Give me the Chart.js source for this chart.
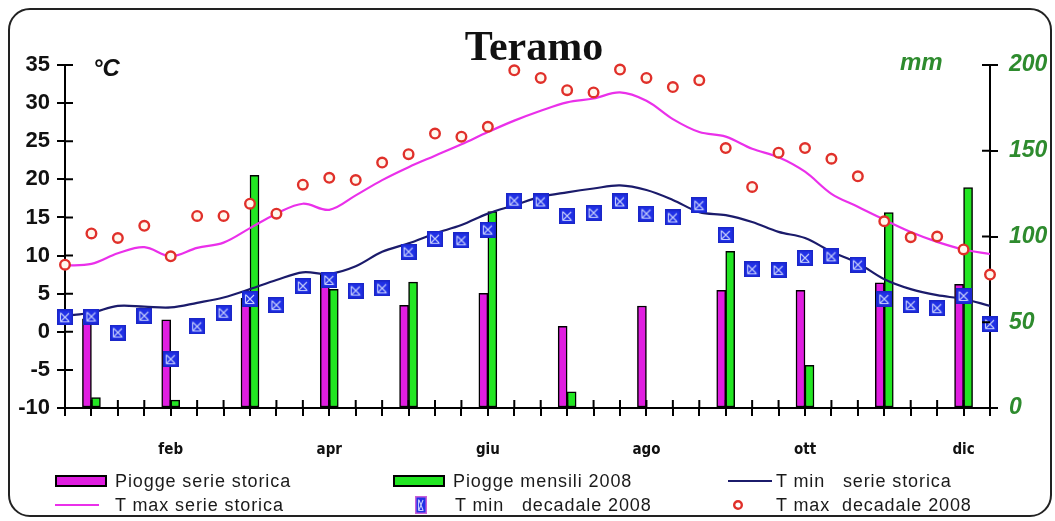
<!DOCTYPE html>
<html>
<head>
<meta charset="utf-8">
<script src="https://cdn.jsdelivr.net/npm/chart.js@4.4.0/dist/chart.umd.min.js"></script>
<style>
  html, body { margin: 0; padding: 0; background: #fff; }
  body { width: 1055px; height: 521px; position: relative; overflow: hidden;
         font-family: 'Liberation Sans', Arial, sans-serif; }
  #cornice { position: absolute; left: 8px; top: 8px; width: 1044px; height: 509px;
             box-sizing: border-box; border: 2.5px solid #222; border-radius: 22px; }
  #grafico { position: absolute; left: 0; top: 0; }
  #titolo { position: absolute; left: 534px; top: 25px; transform: translateX(-50%);
            font: bold 42px/42px 'Liberation Serif', 'Times New Roman', serif; color: #111; white-space: nowrap; }
  .unita { position: absolute; font-weight: bold; font-style: italic; font-size: 24px; line-height: 24px; }
  #unitaC { left: 93px; top: 56px; color: #111; }
  #unitaMm { left: 900px; top: 50px; color: #2e8b2e; }
  .voce { position: absolute; font-size: 18px; line-height: 18px; color: #1a1a1a;
          white-space: pre; letter-spacing: 0.9px; }
  .segno { position: absolute; }
</style>
</head>
<body>
<div id="cornice"></div>
<canvas id="grafico" width="1055" height="521"></canvas>
<div id="titolo">Teramo</div>
<div class="unita" id="unitaC">°C</div>
<div class="unita" id="unitaMm">mm</div>
<div id="legenda"></div>
<script>
// --- Teramo: piogge mensili e temperature decadali, serie storica e 2008 ---

// mesi (per le barre di pioggia)
const mesi = ['gen', 'feb', 'mar', 'apr', 'mag', 'giu', 'lug', 'ago', 'set', 'ott', 'nov', 'dic'];
// etichette sull'asse orizzontale e decade (0..35) su cui cadono
const etichetteAsseX = ['feb', 'apr', 'giu', 'ago', 'ott', 'dic'];
const decadiEtichette = [4, 10, 16, 22, 28, 34];
// tacche degli assi verticali
const tickGradi = [-10, -5, 0, 5, 10, 15, 20, 25, 30, 35];
const tickMm = [0, 50, 100, 150, 200];

// piogge (mm)
const pioggeSerieStorica = [52.0, 51.4, 64.0, 77.9, 59.9, 66.9, 47.6, 59.5, 68.6, 68.6, 73.0, 72.1];
const pioggeMensili2008 = [6.1, 4.6, 135.7, 69.2, 73.4, 114.5, 9.4, 0, 91.3, 24.9, 113.9, 128.5];

// temperature per decade (°C), 36 decadi
const tMinSerieStorica = [2.1, 2.5, 3.4, 3.3, 3.2, 3.8, 4.5, 5.6, 6.8, 7.8, 7.6, 8.6,
  10.5, 11.6, 12.9, 14.0, 15.5, 16.6, 17.7, 18.3, 18.8, 19.2, 18.6, 17.3,
  15.7, 15.3, 14.4, 13.1, 12.3, 10.5, 9.0, 6.9, 5.6, 4.8, 4.3, 3.4];
const tMaxSerieStorica = [8.7, 8.9, 10.3, 11.1, 9.9, 11.0, 11.7, 13.6, 15.5, 16.8, 16.0, 17.9,
  19.9, 21.6, 23.1, 24.6, 26.2, 27.7, 29.0, 30.1, 30.6, 31.4, 30.3, 27.9,
  26.2, 25.6, 24.0, 22.9, 21.0, 18.1, 16.4, 14.7, 13.1, 11.8, 10.8, 10.2];
const tMinDecadale2008 = [1.9, 2.0, -0.1, 2.1, -3.6, 0.7, 2.5, 4.3, 3.5, 6.0, 6.8, 5.4,
  5.7, 10.5, 12.2, 12.0, 13.4, 17.2, 17.1, 15.2, 15.6, 17.1, 15.5, 15.0,
  16.6, 12.7, 8.2, 8.1, 9.7, 9.9, 8.8, 4.3, 3.5, 3.1, 4.7, 1.0];
const tMaxDecadale2008 = [8.8, 12.9, 12.3, 13.9, 9.9, 15.2, 15.2, 16.8, 15.5, 19.3, 20.2, 19.9,
  22.2, 23.3, 26.0, 25.6, 26.9, 34.3, 33.3, 31.7, 31.4, 34.4, 33.3, 32.1,
  33.0, 24.1, 19.0, 23.5, 24.1, 22.7, 20.4, 14.5, 12.4, 12.5, 10.8, 7.5];

// colori
const ROSA = '#e01ee0';
const VERDE = '#22e622';
const MAGENTA = '#ea30ea';
const BLU_NOTTE = '#1b1b6b';
const ROSSO = '#e0302a';
const VERDE_ASSE = '#2e8b2e';

// segno "quadrato con croce" per le minime decadali
function segnoTmin(w, h, bordo) {
  const c = document.createElement('canvas');
  c.width = w; c.height = h;
  const g = c.getContext('2d');
  g.fillStyle = bordo || '#1a26c8';
  g.fillRect(0, 0, w, h);
  g.fillStyle = '#2030e6';
  g.fillRect(1.5, 1.5, w - 3, h - 3);
  g.strokeStyle = 'rgba(225,232,255,0.85)';
  g.lineWidth = 1.1;
  g.beginPath();
  g.moveTo(4, 4); g.lineTo(w - 4, h - 4);
  g.moveTo(w - 4, 4); g.lineTo(4, h - 4);
  g.moveTo(3.5, h - 3.5); g.lineTo(w - 3.5, h - 3.5);
  g.moveTo(3.5, 3.5); g.lineTo(3.5, h - 3.5);
  g.stroke();
  return c;
}

const perDecade = arr => arr.map((v, i) => ({ x: i, y: v }));
const perMese = arr => arr.map((v, m) => ({ x: 3 * m + 1, y: v }));

// tacche interne agli assi (le tacche esterne le disegna la libreria)
const taccheInterne = {
  id: 'taccheInterne',
  afterDraw(chart) {
    const { ctx, chartArea: a, scales } = chart;
    const L = 8;
    ctx.save();
    ctx.strokeStyle = '#000';
    ctx.lineWidth = 2;
    ctx.beginPath();
    scales.x.ticks.forEach(t => {
      const px = scales.x.getPixelForValue(t.value);
      ctx.moveTo(px, a.bottom); ctx.lineTo(px, a.bottom - L);
    });
    scales.y.ticks.forEach(t => {
      const py = scales.y.getPixelForValue(t.value);
      ctx.moveTo(a.left, py); ctx.lineTo(a.left + L, py);
    });
    scales.mm.ticks.forEach(t => {
      const py = scales.mm.getPixelForValue(t.value);
      ctx.moveTo(a.right, py); ctx.lineTo(a.right - L, py);
    });
    ctx.stroke();
    ctx.restore();
  }
};

const fontNum = { family: "'Liberation Sans', Arial, sans-serif", size: 22, weight: 'bold' };

const grafico = new Chart(document.getElementById('grafico'), {
  type: 'bar',
  data: {
    datasets: [
      { type: 'bar', label: 'Piogge serie storica', data: perMese(pioggeSerieStorica),
        yAxisID: 'mm', backgroundColor: ROSA, borderColor: '#000', borderWidth: 1.5,
        borderSkipped: false, barThickness: 9, order: 5 },
      { type: 'bar', label: 'Piogge mensili 2008', data: perMese(pioggeMensili2008),
        yAxisID: 'mm', backgroundColor: VERDE, borderColor: '#000', borderWidth: 1.5,
        borderSkipped: false, barThickness: 9, order: 5 },
      { type: 'line', label: 'T min   serie storica', data: perDecade(tMinSerieStorica),
        yAxisID: 'y', borderColor: BLU_NOTTE, borderWidth: 2.2, pointRadius: 0,
        tension: 0.35, order: 3 },
      { type: 'line', label: 'T max serie storica', data: perDecade(tMaxSerieStorica),
        yAxisID: 'y', borderColor: MAGENTA, borderWidth: 2.2, pointRadius: 0,
        tension: 0.35, order: 3 },
      { type: 'line', label: 'T min   decadale 2008', data: perDecade(tMinDecadale2008),
        yAxisID: 'y', showLine: false, pointStyle: segnoTmin(16, 16), pointRadius: 8,
        clip: false, order: 2 },
      { type: 'line', label: 'T max  decadale 2008', data: perDecade(tMaxDecadale2008),
        yAxisID: 'y', showLine: false, pointStyle: 'circle', pointRadius: 4.8,
        pointBorderWidth: 2.4, pointBorderColor: ROSSO, pointBackgroundColor: '#fff8ee',
        clip: false, order: 1 }
    ]
  },
  options: {
    responsive: false,
    devicePixelRatio: 1,
    animation: false,
    layout: { padding: { top: 65, left: 0, right: 0, bottom: 0 } },
    plugins: { legend: { display: false }, tooltip: { enabled: false } },
    scales: {
      x: {
        type: 'linear', min: 0, max: 35, offset: false,
        afterFit: s => { s.height = 113; },
        border: { display: true, color: '#000', width: 2 },
        grid: { display: true, drawOnChartArea: false, drawTicks: true, tickLength: 8,
                color: '#000', lineWidth: 2, offset: false },
        ticks: {
          stepSize: 1, autoSkip: false, maxRotation: 0, padding: 25, color: '#111',
          font: { family: "'Liberation Sans Narrow', 'DejaVu Sans Condensed', sans-serif", size: 15, weight: 'bold' },
          callback: v => {
            const k = decadiEtichette.indexOf(v);
            return k >= 0 ? etichetteAsseX[k] : '';
          }
        }
      },
      y: {
        position: 'left',
        min: tickGradi[0], max: tickGradi[tickGradi.length - 1],
        afterFit: s => { s.width = 65; },
        border: { display: true, color: '#000', width: 2 },
        grid: { display: true, drawOnChartArea: false, drawTicks: true, tickLength: 8,
                color: '#000', lineWidth: 2 },
        ticks: { stepSize: tickGradi[1] - tickGradi[0], padding: 7, color: '#111', font: fontNum }
      },
      mm: {
        position: 'right',
        min: tickMm[0], max: tickMm[tickMm.length - 1],
        afterFit: s => { s.width = 65; },
        border: { display: true, color: '#000', width: 2 },
        grid: { display: true, drawOnChartArea: false, drawTicks: true, tickLength: 8,
                color: '#000', lineWidth: 2 },
        ticks: { stepSize: tickMm[1] - tickMm[0], padding: 11, color: VERDE_ASSE,
                 font: Object.assign({}, fontNum, { style: 'italic', size: 23 }) }
      }
    }
  },
  plugins: [taccheInterne]
});

// --- legenda su tre colonne, costruita dalle etichette dei dataset ---
const legenda = document.getElementById('legenda');
// [sinistra del segno, sinistra del testo, centro verticale della riga]
const posizioni = [
  [55, 115, 481], [393, 453, 481], [728, 776, 481],
  [55, 115, 505], [415, 455, 505], [732, 776, 505]
];

function segnoLegenda(ds) {
  const c = document.createElement('canvas');
  const g = c.getContext('2d');
  if (ds.type === 'bar') {
    c.width = 52; c.height = 12;
    g.fillStyle = '#000'; g.fillRect(0, 0, 52, 12);
    g.fillStyle = ds.backgroundColor; g.fillRect(2, 2, 48, 8);
  } else if (ds.showLine !== false) {
    c.width = 44; c.height = 4;
    g.fillStyle = ds.borderColor; g.fillRect(0, 1, 44, 2);
  } else if (ds.pointStyle === 'circle') {
    c.width = 12; c.height = 12;
    g.strokeStyle = ROSSO; g.lineWidth = 2.4;
    g.beginPath(); g.arc(6, 6, 3.8, 0, Math.PI * 2); g.stroke();
  } else {
    return segnoTmin(12, 18, '#c860d8');
  }
  return c;
}

grafico.data.datasets.forEach((ds, k) => {
  const [xs, xt, yc] = posizioni[k];
  const segno = segnoLegenda(ds);
  segno.className = 'segno';
  segno.style.left = xs + 'px';
  segno.style.top = (yc - segno.height / 2) + 'px';
  legenda.appendChild(segno);
  const t = document.createElement('div');
  t.className = 'voce';
  t.textContent = ds.label;
  t.style.left = xt + 'px';
  t.style.top = (yc - 9) + 'px';
  legenda.appendChild(t);
});
</script>
</body>
</html>
